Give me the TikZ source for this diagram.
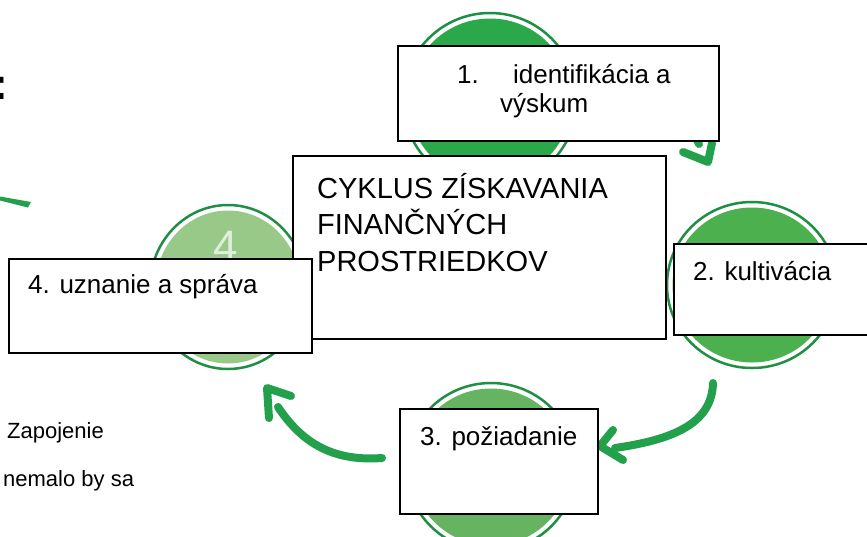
\documentclass[tikz,border=0pt]{standalone}
\usepackage{fontspec}
\setmainfont{Liberation Sans}
\usetikzlibrary{shapes.geometric}
\definecolor{ringc}{HTML}{1F8F45}
\definecolor{arrc}{HTML}{22A04B}
\definecolor{gA}{HTML}{2BA84A}
\definecolor{gB}{HTML}{4DB04F}
\definecolor{gC}{HTML}{66B461}
\definecolor{gD}{HTML}{98C989}

\begin{document}
\begin{tikzpicture}[x=1pt,y=-1pt,
  ring/.style={ellipse, draw=ringc, line width=2.5pt, fill=white, inner sep=0pt},
  disc/.style={ellipse, inner sep=0pt},
  num/.style={font=\fontsize{44}{44}\selectfont, anchor=base, inner sep=0pt},
  arr/.style={draw=arrc, line width=8pt, line cap=round, line join=round},
  box/.style={draw=black, line width=1.8pt, fill=white, inner sep=0pt, anchor=north west},
  lbl/.style={font=\fontsize{26}{30}\selectfont, inner sep=0pt, anchor=base west},
  big/.style={font=\fontsize{29}{34}\selectfont, inner sep=0pt, anchor=base west},
  note/.style={font=\fontsize{22}{26}\selectfont, inner sep=0pt, anchor=base west}]
\path[use as bounding box, fill=white] (0,0) rectangle (867,536);

% circles of the cycle
\foreach \n/\x/\y/\w/\h/\c in {1/490/100/174pt/174pt/gA, 2/752/285/170pt/166pt/gB,
                              3/491/467/170pt/168pt/gC, 4/228/287/156pt/164pt/gD}{
  \node[ring, minimum width=\w, minimum height=\h] (k\n) at (\x,\y) {};
  \node[disc, fill=\c, minimum width=\w-11pt, minimum height=\h-11pt] (d\n) at (k\n) {};
}
\node[num, text=gD!30!white] (n4) at (226,261) {4};

% arrows
\coordinate (s1) at (640,95);
\coordinate (e1) at (699,144);
\coordinate (h1) at (708,162);
\coordinate (s2) at (713,383);
\coordinate (e2) at (615,448);
\coordinate (h2) at (600,446);
\coordinate (s3) at (382,458);
\coordinate (e3) at (278,407);
\coordinate (h3) at (267,388);
\draw[arr] (s1) .. controls (680,105) .. (e1);
\draw[arr] (h1) ++(-25,-10) -- (h1) -- ++(4,-19);
\draw[arr] (s2) .. controls (712,425) and (670,440) .. (e2);
\draw[arr] (h2) ++(13,-16) -- (h2) -- ++(23,14);
\draw[arr] (s3) .. controls (330,462) and (300,440) .. (e3);
\draw[arr] (h3) ++(2,30) -- (h3) -- ++(24,8);
\fill[arrc] (0,196.5) -- (31,202) -- (28,207.5) -- (0,200.5) -- cycle;

% boxes
\node[box, minimum width=373pt, minimum height=183pt] (cbox) at (292,155) {};
\node[big] (c1) at (317,198) {CYKLUS ZÍSKAVANIA};
\node[big] (c2) at (317,234) {FINANČNÝCH};
\node[big] (c3) at (317,271) {PROSTRIEDKOV};

\node[box, minimum width=321pt, minimum height=95pt] (b1) at (397,45) {};
\node[lbl] (t1a) at (457,83) {1.};
\node[lbl] (t1b) at (513,83) {identifikácia a};
\node[lbl] (t1c) at (500,112) {výskum};

\node[box, minimum width=200pt, minimum height=91pt] (b2) at (673,243) {};
\node[lbl] (t2) at (693,280) {2. kultivácia};

\node[box, minimum width=303pt, minimum height=94pt] (b4) at (8,258) {};
\node[lbl] (t4) at (28,293) {4. uznanie a správa};

\node[box, minimum width=198pt, minimum height=105pt] (b3) at (399,408) {};
\node[lbl] (t3) at (420,445) {3. požiadanie};

% text at the left edge
\node[font=\bfseries\fontsize{44}{44}\selectfont, inner sep=0pt, anchor=base east] (colon) at (8,99) {:};
\node[note] (z1) at (7,438) {Zapojenie};
\node[note] (z2) at (3,486) {nemalo by sa};
\end{tikzpicture}
\end{document}
